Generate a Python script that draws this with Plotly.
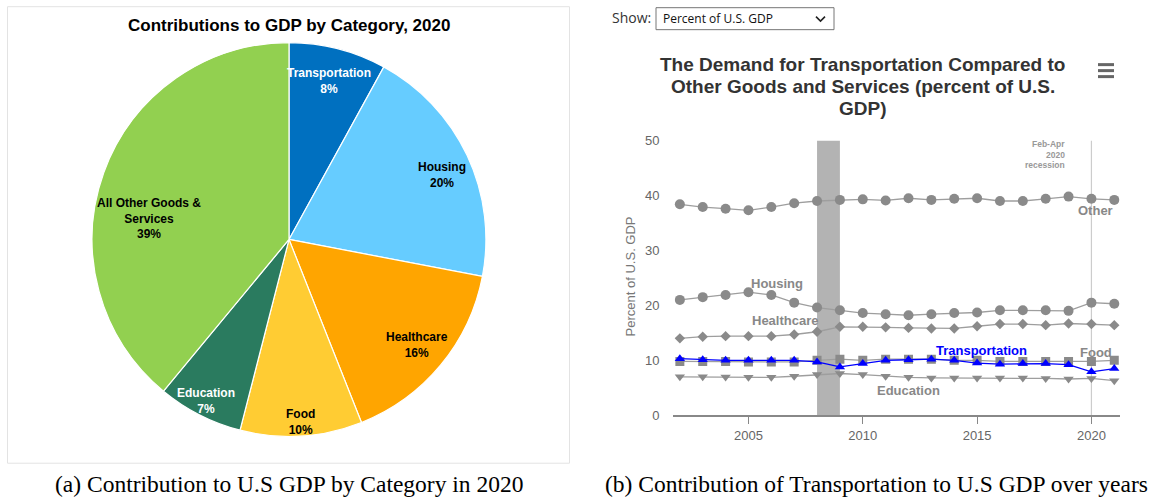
import math
import plotly.graph_objects as go

# ---------------- data ----------------
pie_labels = ["Transportation", "Housing", "Healthcare", "Food", "Education", "All Other Goods & Services"]
pie_text = ["Transportation", "Housing", "Healthcare", "Food", "Education", "All Other Goods &<br>Services"]
pie_values = [8, 20, 16, 10, 7, 39]
pie_colors = ["#0070C0", "#66CCFF", "#FFA500", "#FFCC33", "#2A7B5F", "#92D050"]
pie_text_colors = ["#ffffff", "#000000", "#000000", "#000000", "#ffffff", "#000000"]
# label placement styles (radius fraction, vertical shift in px)
pie_label_r = [0.83, 0.86, 0.85, 0.94, 0.93, 0.76]
pie_label_shift = [0, -8, 0, 0, 0, -30]

years = list(range(2002, 2022))
other = [38.4, 37.9, 37.6, 37.3, 37.9, 38.6, 39.0, 39.2, 39.3, 39.1, 39.5, 39.2, 39.4, 39.5, 39.0, 39.0, 39.4, 39.8, 39.4, 39.2]
housing = [21.0, 21.5, 21.9, 22.4, 21.9, 20.5, 19.6, 19.1, 18.6, 18.4, 18.2, 18.4, 18.6, 18.7, 19.1, 19.1, 19.1, 19.0, 20.5, 20.3]
healthcare = [14.0, 14.3, 14.4, 14.4, 14.4, 14.7, 15.2, 16.1, 16.1, 16.0, 15.9, 15.8, 15.8, 16.2, 16.6, 16.6, 16.4, 16.7, 16.6, 16.4]
food = [9.8, 9.8, 9.8, 9.7, 9.7, 9.7, 10.0, 10.2, 10.0, 10.2, 10.2, 10.2, 10.0, 10.0, 9.8, 9.8, 9.8, 9.8, 9.8, 10.0]
transportation = [10.3, 10.1, 10.0, 10.0, 10.0, 10.0, 9.7, 8.8, 9.4, 10.0, 10.1, 10.2, 10.0, 9.5, 9.3, 9.4, 9.4, 9.2, 7.9, 8.5]
education = [7.0, 7.0, 6.95, 6.9, 6.9, 7.1, 7.4, 7.6, 7.4, 7.1, 6.9, 6.8, 6.8, 6.8, 6.8, 6.8, 6.7, 6.6, 6.7, 6.3]

x_ticks = [2005, 2010, 2015, 2020]
y_ticks = [0, 10, 20, 30, 40, 50]

title_lines = ["The Demand for Transportation Compared to",
               "Other Goods and Services (percent of U.S.",
               "GDP)"]

W, H = 1156, 500
# vertical calibration (target picture pixel -> page pixel)
VS, VOFF = 0.971, 6.5
def px(x):
    return x / W
def ypage(y):
    return y / VS - VOFF
def py(y):
    return 1 - ypage(y) / H

GRAY_M = "#8a8a8a"
GRAY_L = "#9e9e9e"
SANS = "Liberation Sans, Arial, sans-serif"
SERIF = "Liberation Serif, Times New Roman, serif"

# pie geometry (pixels)
PCX, PCY, PR = 289, 239, 203
pcy_page = ypage(PCY)

fig = go.Figure()

# ---------------- pie ----------------
fig.add_trace(go.Pie(
    labels=pie_labels, values=pie_values,
    sort=False, direction="clockwise", rotation=0,
    marker=dict(colors=pie_colors, line=dict(color="#ffffff", width=1.2)),
    textinfo="none",
    hoverinfo="label+percent", showlegend=False,
    domain=dict(x=[px(PCX - PR), px(PCX + PR)],
                y=[1 - (pcy_page + PR) / H, 1 - (pcy_page - PR) / H]),
))

# ---------------- lines ----------------
series = [
    ("Other", other, "circle", 10, GRAY_M, GRAY_L),
    ("Housing", housing, "circle", 10, GRAY_M, GRAY_L),
    ("Healthcare", healthcare, "diamond", 8, GRAY_M, GRAY_L),
    ("Education", education, "triangle-down", 9, GRAY_M, GRAY_L),
    ("Food", food, "square", 9, GRAY_M, GRAY_L),
    ("Transportation", transportation, "triangle-up", 9, "#0000ff", "#0000ff"),
]
for name, vals, sym, size, mcol, lcol in series:
    fig.add_trace(go.Scatter(
        x=years, y=vals, name=name, mode="lines+markers",
        line=dict(color=lcol, width=1.3),
        marker=dict(symbol=sym, size=size, color=mcol),
        showlegend=False, xaxis="x", yaxis="y",
    ))

fig.update_layout(
    width=W, height=H,
    margin=dict(l=0, r=0, t=0, b=0),
    paper_bgcolor="#ffffff", plot_bgcolor="rgba(0,0,0,0)",
    font=dict(family=SANS, color="#666666"),
    xaxis=dict(
        domain=[px(673), px(1120)], range=[2001.7, 2021.25],
        tickvals=x_ticks, ticks="outside", ticklen=7, tickcolor="#888888",
        showline=True, linecolor="#888888", linewidth=1.5,
        showgrid=False, zeroline=False,
        tickfont=dict(size=13, color="#666666"),
        anchor="y",
    ),
    yaxis=dict(
        domain=[py(415), py(140)], range=[0, 50],
        tickvals=y_ticks, ticks="outside", ticklen=10, tickcolor="rgba(0,0,0,0)",
        showline=False, showgrid=False, zeroline=False,
        tickfont=dict(size=13, color="#666666"),
        anchor="x",
    ),
)

shapes = []
shapes.append(dict(type="rect", xref="x", yref="y", x0=2008, x1=2009, y0=0, y1=50,
                   fillcolor="#b3b3b3", line=dict(width=0), layer="below"))
shapes.append(dict(type="line", xref="x", yref="y", x0=2020, x1=2020, y0=0, y1=50,
                   line=dict(color="#cccccc", width=1.2), layer="below"))
shapes.append(dict(type="rect", xref="paper", yref="paper", x0=px(7.5), x1=px(569.5),
                   y0=py(463), y1=py(6), line=dict(color="#e3e3e3", width=1)))
shapes.append(dict(type="rect", xref="paper", yref="paper", x0=px(656), x1=px(834),
                   y0=py(29), y1=py(7), line=dict(color="#767676", width=1), fillcolor="#ffffff"))
x0c, y0c = 816, 16
shapes.append(dict(type="path", xref="paper", yref="paper",
                   path=f"M {px(x0c)} {py(y0c)} L {px(x0c+4.5)} {py(y0c+4.5)} L {px(x0c+9)} {py(y0c)}",
                   line=dict(color="#222222", width=1.6)))
for yy in (64, 70, 76):
    shapes.append(dict(type="line", xref="paper", yref="paper", x0=px(1098), x1=px(1114),
                       y0=py(yy), y1=py(yy), line=dict(color="#666666", width=3)))
fig.update_layout(shapes=shapes)

ann = []
total = sum(pie_values)
cum = 0
for txt, v, col, rf, sh in zip(pie_text, pie_values, pie_text_colors, pie_label_r, pie_label_shift):
    mid = (cum + v / 2) / total * 2 * math.pi
    cum += v
    lx = PCX + rf * 196 * math.sin(mid)
    ly = 238 - rf * 196 * math.cos(mid)
    pct = round(v / total * 100)
    ann.append(dict(text=f"<b>{txt}<br>{pct}%</b>", x=px(lx), y=py(ly), xref="paper", yref="paper",
                    showarrow=False, xanchor="center", yanchor="middle", yshift=sh, align="center",
                    font=dict(family=SANS, size=12, color=col)))
ann.append(dict(text="<b>Contributions to GDP by Category, 2020</b>", x=px(289), y=py(25),
                xref="paper", yref="paper", showarrow=False, xanchor="center", yanchor="middle",
                font=dict(family=SANS, size=17, color="#000000")))
for i, line in enumerate(title_lines):
    ann.append(dict(text=f"<b>{line}</b>", x=px(863), y=py(64 + 22 * i), xref="paper", yref="paper",
                    showarrow=False, xanchor="center", yanchor="middle",
                    font=dict(family=SANS, size=19, color="#333333")))
ann.append(dict(text="Show:", x=px(610), y=py(17), xref="paper", yref="paper", showarrow=False,
                xanchor="left", yanchor="middle", font=dict(family="Open Sans, sans-serif", size=14, color="#333333")))
ann.append(dict(text="Percent of U.S. GDP", x=px(661), y=py(18), xref="paper", yref="paper", showarrow=False,
                xanchor="left", yanchor="middle", font=dict(family="Open Sans, sans-serif", size=12, color="#111111")))
ann.append(dict(text="Percent of U.S. GDP", x=px(630), y=py(276), xref="paper", yref="paper",
                showarrow=False, textangle=-90, xanchor="center", yanchor="middle",
                font=dict(family=SANS, size=13, color="#777777")))
for i, line in enumerate(["Feb-Apr", "2020", "recession"]):
    ann.append(dict(text=f"<b>{line}</b>", x=2018.95, y=49.3 - 1.85 * i, xref="x", yref="y",
                    showarrow=False, xanchor="right", yanchor="middle",
                    font=dict(family=SANS, size=8.5, color="#999999")))
lab = [
    ("Other", 2020.2, 37.3, "#888888"),
    ("Housing", 2006.25, 24.0, "#888888"),
    ("Healthcare", 2006.6, 17.3, "#888888"),
    ("Transportation", 2015.2, 11.8, "#0000ff"),
    ("Food", 2020.2, 11.5, "#888888"),
    ("Education", 2012.0, 4.5, "#888888"),
]
for t, xx, yy, c in lab:
    ann.append(dict(text=f"<b>{t}</b>", x=xx, y=yy, xref="x", yref="y", showarrow=False,
                    xanchor="center", yanchor="middle",
                    font=dict(family=SANS, size=13, color=c)))
ann.append(dict(text="(a) Contribution to U.S GDP by Category in 2020", x=px(289), y=py(484),
                xref="paper", yref="paper", showarrow=False, xanchor="center", yanchor="middle",
                font=dict(family=SERIF, size=23.5, color="#000000")))
ann.append(dict(text="(b) Contribution of Transportation to U.S GDP over years", x=px(876), y=py(484),
                xref="paper", yref="paper", showarrow=False, xanchor="center", yanchor="middle",
                font=dict(family=SERIF, size=23.5, color="#000000")))
fig.update_layout(annotations=ann)

fig.write_html("out.html", config={"displayModeBar": False})
with open("out.html", "r", encoding="utf-8") as f:
    html = f.read()
css = ("<style>html,body{margin:0;padding:0;overflow:hidden;width:1156px;height:500px}"
       ".plotly-graph-div{position:absolute;top:0;left:0}</style>")
html = html.replace("<head>", "<head>" + css, 1)
with open("out.html", "w", encoding="utf-8") as f:
    f.write(html)
